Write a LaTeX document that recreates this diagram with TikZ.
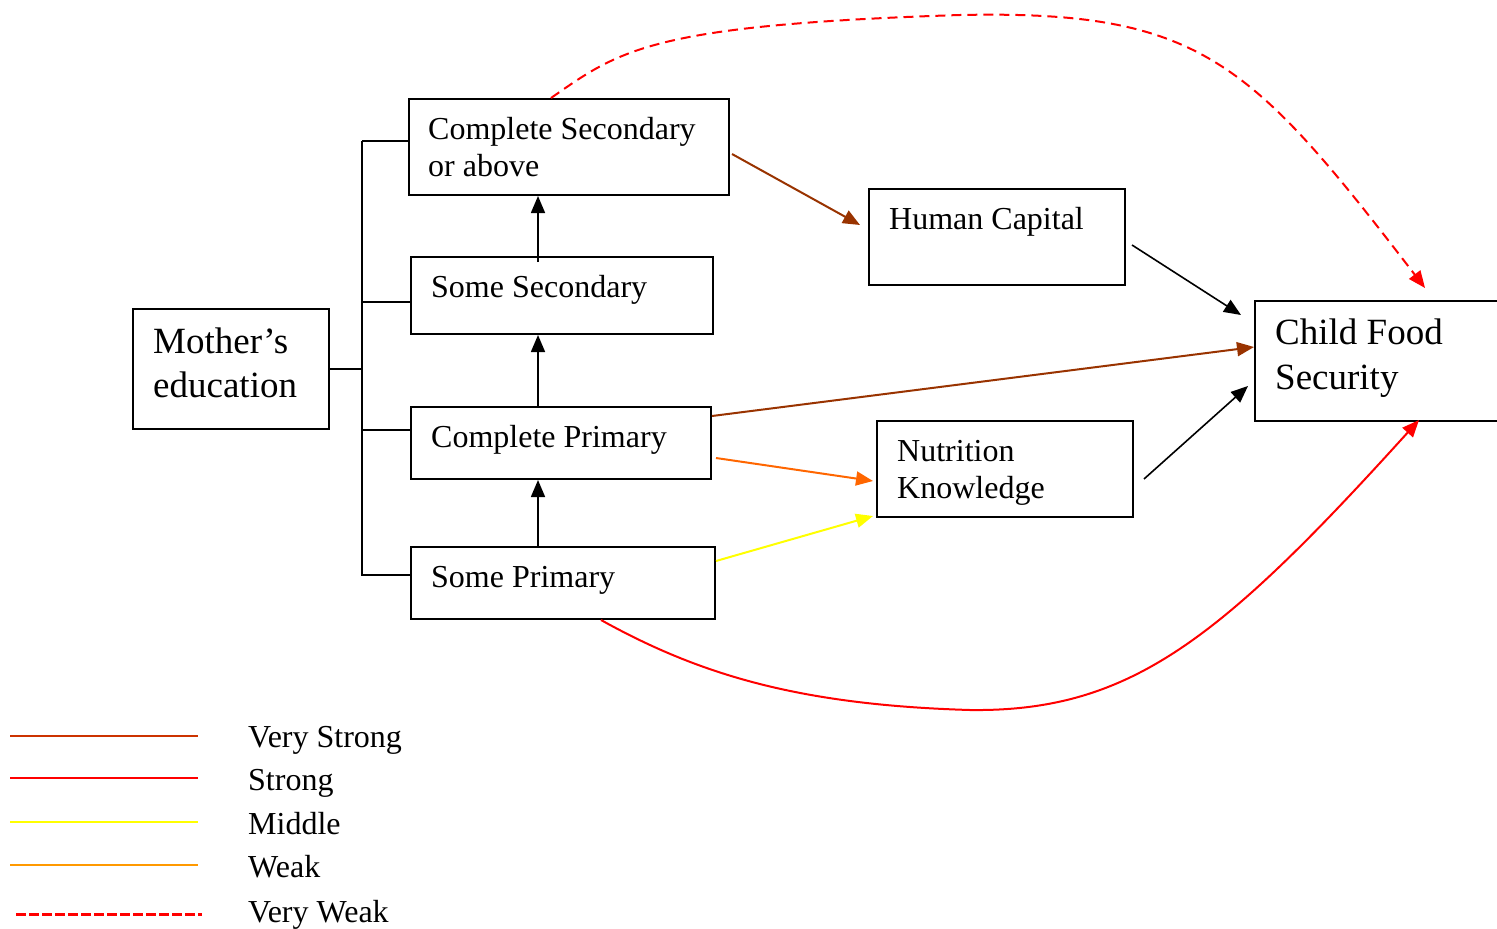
\documentclass[tikz,border=0pt]{standalone}
\usepackage{fontspec}
\setmainfont{Liberation Serif}
\usetikzlibrary{arrows.meta,calc}
\definecolor{vstrong}{HTML}{993300}
\definecolor{vstrongleg}{HTML}{CC3300}
\definecolor{weakarr}{HTML}{FF6600}
\definecolor{weakleg}{HTML}{FF9900}
\definecolor{middlec}{HTML}{FFFF00}
\definecolor{strongc}{HTML}{FF0000}
\begin{document}
\begin{tikzpicture}[x=1pt,y=-1pt,
  box/.style={draw=black,line width=2pt,inner sep=0pt,anchor=north west},
  lbl/.style={anchor=base west,inner sep=0pt,font=\fontsize{32}{37}\selectfont},
  biglbl/.style={anchor=base west,inner sep=0pt,font=\fontsize{37}{44}\selectfont},
  tip/.style={-{Triangle[length=17pt,width=14pt]}},
  conn/.style={line width=2pt},
  blk/.style={line width=1.6pt,black,tip},
]
\useasboundingbox (0,0) rectangle (1497,929);

% boxes
\node[box,minimum width=196,minimum height=120] (me) at (132,308) {};
\node[box,minimum width=320,minimum height=96] (cs) at (408,98) {};
\node[box,minimum width=302,minimum height=77] (ss) at (410,256) {};
\node[box,minimum width=300,minimum height=72] (cp) at (410,406) {};
\node[box,minimum width=304,minimum height=72] (sp) at (410,546) {};
\node[box,minimum width=256,minimum height=96] (hc) at (868,188) {};
\node[box,minimum width=256,minimum height=96] (nk) at (876,420) {};
\node[box,minimum width=260,minimum height=120] (cfs) at (1254,300) {};

% labels
\node[biglbl] (meA) at (153,353) {Mother’s};
\node[biglbl] (meB) at (153,397) {education};
\node[lbl] (csA) at (428,139) {Complete Secondary};
\node[lbl] (csB) at (428,176) {or above};
\node[lbl] (ssA) at (431,297) {Some Secondary};
\node[lbl] (cpA) at (431,447) {Complete Primary};
\node[lbl] (spA) at (431,587) {Some Primary};
\node[lbl] (hcA) at (889,229) {Human Capital};
\node[lbl] (nkA) at (897,461) {Nutrition};
\node[lbl] (nkB) at (897,498) {Knowledge};
\node[biglbl] (cfsA) at (1275,344) {Child Food};
\node[biglbl] (cfsB) at (1275,389) {Security};

% bracket
\coordinate (bx) at (362,0);
\coordinate (ax) at (538,0);
\draw[conn] (me.east) -- (me.east -| bx);
\draw[conn] ($(cs.west)+(0,-6)$) -- ++(-46,0) coordinate (btop);
\draw[conn] (btop) -- ($(btop |- sp.west)+(0,-8)$) -- ($(sp.west)+(0,-8)$);
\draw[conn] ($(ss.west)+(0,6)$) -- ($(ss.west -| btop)+(0,6)$);
\draw[conn] ($(cp.west)+(0,-13)$) -- ($(cp.west -| btop)+(0,-13)$);

% vertical arrows
\draw[blk] (sp.north -| ax) -- (cp.south -| ax);
\draw[blk] (cp.north -| ax) -- (ss.south -| ax);
\draw[blk] ($(ss.north -| ax)+(0,6)$) -- (cs.south -| ax);

% coloured arrows
\draw[conn,vstrong,tip] ($(cs.east)+(2,7)$) -- ($(hc.west)+(-8,-12)$);
\draw[blk] ($(hc.east)+(6,8)$) -- ($(cfs.north west)+(-13,15)$);
\draw[conn,vstrong,tip] ($(cp.north east)+(0,10)$) -- ($(cfs.west)+(0,-14)$);
\draw[conn,weakarr,tip] ($(cp.east)+(4,15)$) -- ($(nk.west)+(-3,12)$);
\draw[conn,middlec,tip] ($(sp.east)+(0,-22)$) -- ($(nk.south west)+(-3,-2)$);
\draw[blk] ($(nk.east)+(10,10)$) -- ($(cfs.west)+(-6,25)$);
\draw[conn,strongc,tip] ($(sp.south)+(38,0)$) .. controls (700,675) and (800,705) .. (970,710)
   .. controls (1130,712) and (1220,640) .. ($(cfs.south)+(34,-2)$);
\draw[conn,strongc,tip,dash pattern=on 10pt off 6pt] ($(cs.north)+(-18,0)$) .. controls (620,50) and (650,25) .. (960,15)
   .. controls (1200,10) and (1250,60) .. ($(cfs.north)+(40,-12)$);

% legend
\draw[conn,vstrongleg] (10,736) -- (198,736);
\draw[conn,strongc] (10,778) -- (198,778);
\draw[conn,middlec] (10,822) -- (198,822);
\draw[conn,weakleg] (10,865) -- (198,865);
\draw[line width=3pt,strongc,dash pattern=on 10pt off 3pt] (16,914) -- (202,914);
\node[lbl] (l1) at (248,747) {Very Strong};
\node[lbl] (l2) at (248,790) {Strong};
\node[lbl] (l3) at (248,834) {Middle};
\node[lbl] (l4) at (248,877) {Weak};
\node[lbl] (l5) at (248,922) {Very Weak};
\end{tikzpicture}
\end{document}
